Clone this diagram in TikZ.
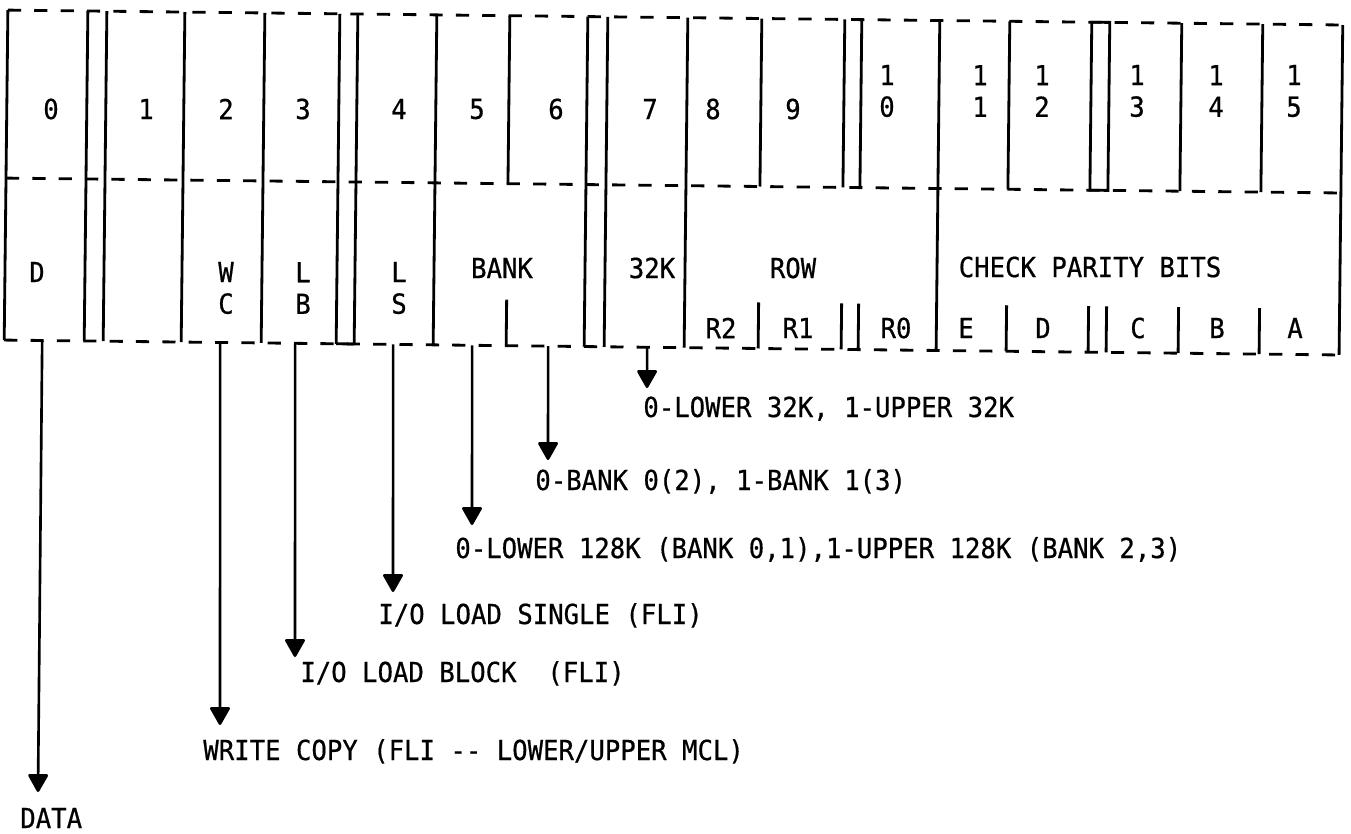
\documentclass[tikz,border=0pt]{standalone}
\usepackage{fontspec}
\newfontfamily\typer{DejaVu Sans Mono}[FakeStretch=0.93, FakeBold=0.6]
\usetikzlibrary{arrows.meta}

\tikzset{
	wall/.style={line width=1.6pt},
	seam/.style={line width=1.6pt, dash pattern=on 7.5pt off 7.5pt},
	tt/.style={inner sep=0pt, font=\typer\fontsize{15.7pt}{18pt}\selectfont},
	feed/.style={line width=1.5pt, -{Triangle[length=11pt,width=12pt,round]}},
}

\begin{document}
\begin{tikzpicture}[x=0.02cm, y=-0.02cm]
	\useasboundingbox (0,0) rectangle (1351,833);
	% register frame, ruled a little askew
	\begin{scope}[rotate=-0.64]
		\foreach \y in {10,178,340}
			\draw [seam] (8,\y) -- (1343,\y);
		\foreach \x in {8,88,107,185,265,340,358,437,588,608,688,940,1343}
			\draw [wall] (\x,10) -- (\x,340);
		\foreach \x in {510,762,845,862,1010,1182,1263}
			\draw [wall] (\x,10) -- (\x,178);
		\foreach \x in {510,762,845,862,1010,1092,1110,1182,1263}
			\draw [wall] (\x,294) -- (\x,340);
		\draw [wall] (1092,10) rectangle (1110,178);
		\draw [wall] (340,340) -- (358,340);
		\coordinate (dsrc) at (46,340);
		\coordinate (wcsrc) at (224,340);
		\coordinate (lbsrc) at (299,340);
		\coordinate (lssrc) at (397,340);
		\coordinate (b5src) at (476,340);
		\coordinate (b6src) at (552,340);
		\coordinate (k32src) at (651,340);
	\end{scope}

	% bit numbers
	\foreach \x/\b in {51/0,146/1,226/2,303/3,399/4,477/5,556/6,650/7,713/8,793/9}
		\node [tt] (bit\b) at (\x,109) {\b};
	\foreach \x/\b/\lo in {887/10/0,980/11/1,1042/12/2,1137/13/3,1216/14/4,1294/15/5}
		\node [tt, align=center] (bit\b) at (\x,91) {1\\\lo};

	% fields
	\node [tt] (fdata) at (37,272) {D};
	\node [tt, align=center] (fwc) at (226,288) {W\\C};
	\node [tt, align=center] (flb) at (303,288) {L\\B};
	\node [tt, align=center] (fls) at (399,288) {L\\S};
	\node [tt] (fbank) at (502,268) {BANK};
	\node [tt] (f32k) at (652,268) {32K};
	\node [tt] (frow) at (793,268) {ROW};
	\node [tt] (fcheck) at (1090,267) {CHECK PARITY BITS};
	\foreach \x/\t in {721/R2,798/R1,896/R0,966/E,1043/D,1138/C,1217/B,1295/A}
		\node [tt] (sub\t) at (\x,328) {\t};

	% meanings
	\node [tt, anchor=base west] (data) at (20,828) {DATA};
	\node [tt, anchor=base west] (wcopy) at (203,760) {WRITE COPY (FLI -- LOWER/UPPER MCL)};
	\node [tt, anchor=base west] (lblock) at (300,682) {I/O LOAD BLOCK\ \ (FLI)};
	\node [tt, anchor=base west] (lsingle) at (378,624) {I/O LOAD SINGLE (FLI)};
	\node [tt, anchor=base west] (low128) at (455,558) {0-LOWER 128K (BANK 0,1),1-UPPER 128K (BANK 2,3)};
	\node [tt, anchor=base west] (bank01) at (535,490) {0-BANK 0(2), 1-BANK 1(3)};
	\node [tt, anchor=base west] (low32) at (643,417) {0-LOWER 32K, 1-UPPER 32K};

	\coordinate (dtip) at (38,792);
	\coordinate (wctip) at (220,725);
	\coordinate (lbtip) at (295,657);
	\coordinate (lstip) at (393,592);
	\coordinate (b5tip) at (472,525);
	\coordinate (b6tip) at (548,460);
	\coordinate (k32tip) at (647,388);

	\draw [feed] (dsrc) -- (dtip);
	\draw [feed] (wcsrc) -- (wctip);
	\draw [feed] (lbsrc) -- (lbtip);
	\draw [feed] (lssrc) -- (lstip);
	\draw [feed] (b5src) -- (b5tip);
	\draw [feed] (b6src) -- (b6tip);
	\draw [feed] (k32src) -- (k32tip);
\end{tikzpicture}
\end{document}
